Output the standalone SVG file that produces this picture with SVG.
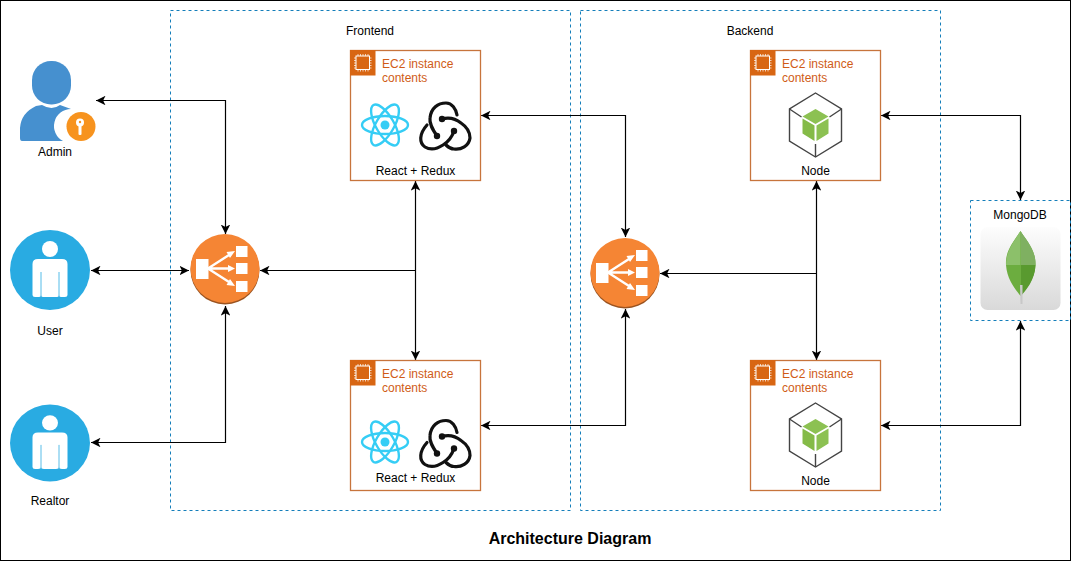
<svg xmlns="http://www.w3.org/2000/svg" xmlns:xlink="http://www.w3.org/1999/xlink" width="1071" height="561" viewBox="0 0 1071 561">
<style>
text{font-family:"Liberation Sans",Arial,sans-serif;font-size:12px;fill:#000}
.t{text-anchor:middle}
.ec2{font-size:12px;fill:#d05c17}
.zone{fill:none;stroke:#147eba;stroke-dasharray:3 3}
.box{fill:#fff;stroke:#c7743c;stroke-width:1.3}
.c{fill:none;stroke:#000;stroke-width:1.2;marker-start:url(#a);marker-end:url(#a)}
.c1{fill:none;stroke:#000;stroke-width:1.2;marker-end:url(#a)}
</style>
<defs>
<marker id="a" viewBox="0 0 10 10" refX="10" refY="5" markerWidth="9.5" markerHeight="9.5" markerUnits="userSpaceOnUse" orient="auto-start-reverse"><path d="M0 0L10 5L0 10L2.5 5Z" fill="#000"/></marker>
<g id="chip">
<rect width="25.500" height="25.500" fill="#d86613"/>
<rect x="6" y="6" width="13.500" height="13.500" fill="none" stroke="#fff" stroke-width="1"/>
<path d="M8 4v2M10.500 4v2M13 4v2M15.500 4v2M18 4v2M8 19.500v2M10.500 19.500v2M13 19.500v2M15.500 19.500v2M18 19.500v2M4 8h2M4 10.500h2M4 13h2M4 15.500h2M4 18h2M19.500 8h2M19.500 10.500h2M19.500 13h2M19.500 15.500h2M19.500 18h2" stroke="#fff" stroke-width=".7" fill="none"/>
</g>
<g id="react" fill="none" stroke="#35cdf5" stroke-width="2.400">
<ellipse rx="23" ry="9"/><ellipse rx="23" ry="9" transform="rotate(60)"/><ellipse rx="23" ry="9" transform="rotate(120)"/>
<circle r="4.500" fill="#35cdf5" stroke="none"/>
</g>
<g id="redux" fill="none" stroke="#111" stroke-width="3.200" stroke-linecap="round">
<path d="M-8 11C-12 5-16-1-15-7C-14-17-7-22 1-22C7-22 11-16 12-10"/>
<path d="M-3-6C4-8 11-6 16-2C22 2 25 8 25 13C24 21 16 25 9 24C6 24 3 22 1 20"/>
<path d="M9 6C7 12 3 17-2 20C-8 24-15 25-20 22C-26 18-26 9-18 0"/>
<circle cx="-8" cy="11" r="3.200" fill="#111" stroke="none"/><circle cx="-3" cy="-6" r="3.200" fill="#111" stroke="none"/><circle cx="9" cy="6" r="3.200" fill="#111" stroke="none"/>
</g>
<g id="nodeicon">
<path d="M0-32L26-16V16L0 32L-26 16V-16Z" fill="#fff" stroke="#444" stroke-width="1.400"/>
<path d="M-26-16L-14-8M26-16L14-8M0 32V19" stroke="#444" stroke-width="1.400"/>
<path d="M0-16L13-8.500L0-1L-13-8.500Z" fill="#8cc152"/>
<path d="M-13-6.500L-1 .5V16L-13 8.500Z" fill="#85bb48"/>
<path d="M13-6.500L1 .5V16L13 8.500Z" fill="#8cc152"/>
</g>
<g id="lb">
<circle cx="0" cy="1.500" r="34.500" fill="#9a5320"/>
<circle r="34.500" fill="#f58534"/>
<g fill="#fff">
<rect x="-29" y="-9.500" width="12.500" height="20"/>
<rect x="11" y="-22.500" width="11.500" height="11"/><rect x="11" y="-5.500" width="11.500" height="11"/><rect x="11" y="12.500" width="11.500" height="11"/>
</g>
<path d="M-17 0L4-13.500M-17 0H4M-17 0L4 13.500" stroke="#fff" stroke-width="2.400" fill="none"/>
<path d="M10-17.500L1.500-16.500L5-10.500ZM10 0L3-3.500V3.500ZM10 17.500L5 10.500L1.500 16.500Z" fill="#fff"/>
</g>
<g id="person">
<circle r="40" fill="#29abe2"/>
<circle cy="-21" r="8" fill="#fff"/>
<path d="M-17.500 25V-6Q-17.500-11-12-11H12Q17.500-11 17.500-6V25Q17.500 27 15 27H12Q9 27 9 25Q9 27 6 27H-6Q-9 27-9 25Q-9 27-12 27H-15Q-17.500 27-17.500 25Z" fill="#fff"/>
<path d="M-9 2V26M9 2V26" stroke="#29abe2" stroke-width=".8" fill="none"/>
</g>
<linearGradient id="mg" x1="0" y1="0" x2="0" y2="1"><stop offset="0" stop-color="#fdfdfd"/><stop offset="1" stop-color="#d9d9d9"/></linearGradient>
</defs>
<rect x=".5" y=".5" width="1070" height="560" fill="#fff" stroke="#000"/>
<g id="frontend"><rect class="zone" x="170.500" y="10.500" width="400" height="500"/><text x="370" y="35" class="t">Frontend</text></g>
<g id="backend"><rect class="zone" x="580.500" y="10.500" width="360" height="500"/><text x="750" y="35" class="t">Backend</text></g>
<g id="connectors">
<path class="c" d="M96 100.500H225.500V234"/>
<path class="c" d="M91 270.500H189"/>
<path class="c" d="M91 442.500H225.500V306"/>
<path class="c" d="M481 115.500H625.500V237"/>
<path class="c" d="M481 425.500H625.500V309"/>
<path class="c" d="M415.500 181V360"/>
<path class="c1" d="M415.500 270.500H260"/>
<path class="c" d="M816.500 181V360"/>
<path class="c1" d="M816.500 273.500H660"/>
<path class="c" d="M881 115.500H1020.500V200"/>
<path class="c" d="M881 425.500H1020.500V321"/>
</g>
<g id="admin">
<path d="M20 138V128Q21 113 36 106L42 105Q52 111 60 105L71 109A17 17 0 0 0 63 141H22Q20 141 20 138Z" fill="#4690cf"/>
<rect x="32" y="61" width="39" height="43.500" rx="19" fill="#4690cf"/>
<circle cx="81" cy="126.500" r="14.500" fill="#f7931e"/>
<circle cx="80" cy="122.500" r="4" fill="#fff"/><rect x="78.500" y="124" width="3" height="11" rx="1" fill="#fff"/>
<circle cx="80" cy="122" r="1.200" fill="#f7931e"/>
<text x="55" y="156" class="t">Admin</text>
</g>
<g id="user"><use xlink:href="#person" href="#person" x="50" y="270"/><text x="50" y="335" class="t">User</text></g>
<g id="realtor"><use xlink:href="#person" href="#person" transform="translate(50 443) scale(1 .96)"/><text x="50" y="505" class="t">Realtor</text></g>
<g id="lb-front"><use xlink:href="#lb" href="#lb" x="225" y="268.500"/></g>
<g id="lb-back"><use xlink:href="#lb" href="#lb" x="625" y="272.500"/></g>
<g id="react-top"><rect class="box" x="350.500" y="50.500" width="130" height="130"/><use xlink:href="#chip" href="#chip" x="350" y="50"/><text class="ec2" x="382" y="68">EC2 instance</text><text class="ec2" x="382" y="82">contents</text>
<use xlink:href="#react" href="#react" x="385" y="125"/><use xlink:href="#redux" href="#redux" x="445" y="125"/><text x="415.500" y="175" class="t">React + Redux</text></g>
<g id="react-bottom"><rect class="box" x="350.500" y="360.500" width="130" height="130"/><use xlink:href="#chip" href="#chip" x="350" y="360"/><text class="ec2" x="382" y="378">EC2 instance</text><text class="ec2" x="382" y="392">contents</text>
<use xlink:href="#react" href="#react" x="385" y="442"/><use xlink:href="#redux" href="#redux" x="445" y="442.500"/><text x="415.500" y="482" class="t">React + Redux</text></g>
<g id="node-top"><rect class="box" x="750.500" y="50.500" width="130" height="130"/><use xlink:href="#chip" href="#chip" x="750" y="50"/><text class="ec2" x="782" y="68">EC2 instance</text><text class="ec2" x="782" y="82">contents</text>
<use xlink:href="#nodeicon" href="#nodeicon" x="815.500" y="125"/><text x="815.500" y="175" class="t">Node</text></g>
<g id="node-bottom"><rect class="box" x="750.500" y="360.500" width="130" height="130"/><use xlink:href="#chip" href="#chip" x="750" y="360"/><text class="ec2" x="782" y="378">EC2 instance</text><text class="ec2" x="782" y="392">contents</text>
<use xlink:href="#nodeicon" href="#nodeicon" x="815.500" y="435"/><text x="815.500" y="485" class="t">Node</text></g>
<g id="mongodb">
<rect class="zone" x="970.500" y="200.500" width="100" height="120"/>
<text x="1020" y="219" class="t">MongoDB</text>
<rect x="980.500" y="227" width="80" height="83" rx="7" fill="url(#mg)"/>
<path d="M1020.500 231C1015 240 1005 250 1006 265C1007 280 1016 290 1020.500 296C1025 290 1035 280 1035.500 265C1036 250 1026 240 1020.500 231Z" fill="#6cad3f"/>
<path d="M1020.500 231C1015 240 1006 250 1006 265H1020.500Z" fill="#8cc06a"/>
<path d="M1020.500 231C1026 240 1036 250 1035.500 265H1021Z" fill="#7fb061"/>
<path d="M1021 265H1035.500C1035 280 1026 290 1021 296Z" fill="#599a2f"/>
<path d="M1020 285H1022.500V304H1020.500Z" fill="#c8c8c8"/>
</g>
<text x="570" y="544" class="t" style="font-size:16px;font-weight:bold">Architecture Diagram</text>
</svg>
